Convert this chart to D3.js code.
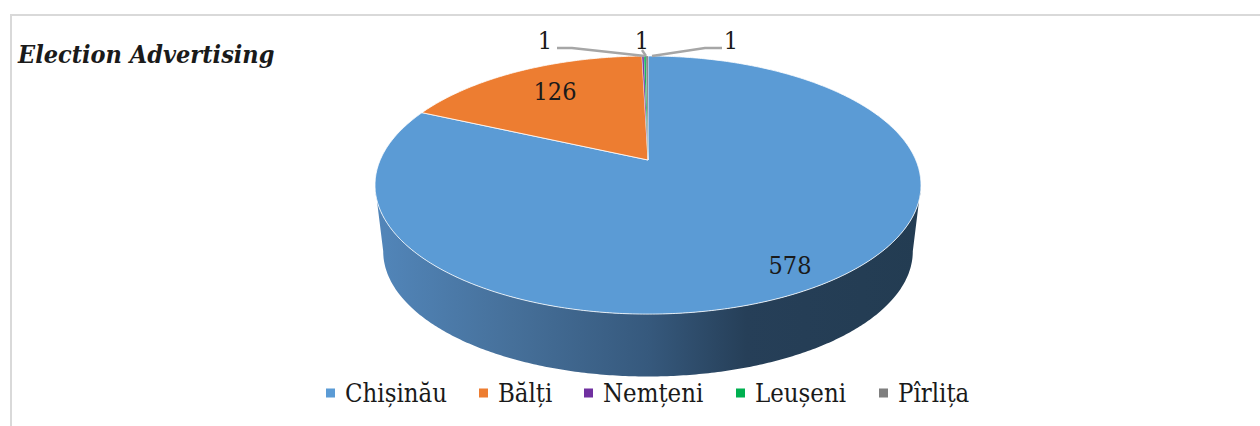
<!DOCTYPE html>
<html>
<head>
<meta charset="utf-8">
<script src="https://cdn.jsdelivr.net/npm/d3@7"></script>
<style>
  html, body { margin: 0; padding: 0; background: #fff; }
  svg { display: block; }
  text { font-family: "DejaVu Serif", serif; font-stretch: condensed; fill: #1a1a1a; }
</style>
</head>
<body>
<svg id="chart" width="1260" height="426"></svg>
<script>
const categories = ["Chișinău", "Bălți", "Nemțeni", "Leușeni", "Pîrlița"];
const values = [578, 126, 1, 1, 1];
const colors = ["#5b9bd5", "#ed7d31", "#7030a0", "#00b050", "#7f7f7f"];
const title = "Election Advertising";

const svg = d3.select("#chart");

// moldura do grafico
svg.append("path")
  .attr("d", "M1260,15H11V426")
  .attr("fill", "none")
  .attr("stroke", "#d9d9d9")
  .attr("stroke-width", 2);

svg.append("text")
  .attr("x", 18)
  .attr("y", 63)
  .attr("font-size", 25)
  .attr("font-weight", "bold")
  .attr("font-style", "italic")
  .text(title);

// perspectiva do disco: centro em (648,160), frente maior que o fundo
const tilt = -0.194;
function project(angle, r, disc) {
  const u = Math.sin(angle) * r;
  const v = -Math.cos(angle) * r;
  const w = 1 + tilt * v;
  return [
    648 + disc.scale * 267.8 * u / w,
    160 + disc.drop + disc.scale * 124.2 * v / w
  ];
}
const top3d = { scale: 1, drop: 0 };
const bottom3d = { scale: 0.97, drop: 67 };

const line = d3.line();
const slices = d3.pie().sort(null)(values);

function rim(a0, a1, disc) {
  const n = Math.max(2, Math.ceil((a1 - a0) / 0.01));
  return d3.range(n + 1).map(i => project(a0 + (a1 - a0) * i / n, 1, disc));
}

// parede lateral
const defs = svg.append("defs");
const grad = defs.append("linearGradient")
  .attr("id", "wall")
  .attr("gradientUnits", "userSpaceOnUse")
  .attr("x1", 375).attr("x2", 921).attr("y1", 0).attr("y2", 0);
[[0, "#5286ba"], [0.25, "#46709a"], [0.5, "#36597d"], [0.68, "#263f58"], [1, "#233c52"]]
  .forEach(s => grad.append("stop").attr("offset", s[0]).attr("stop-color", s[1]));

const wallFrom = Math.PI / 2 + 0.195;
const wallTo = Math.PI * 1.5 - 0.195;
const wallTop = rim(wallFrom, wallTo, top3d);
const wallBottom = rim(wallFrom, wallTo, bottom3d).reverse();
svg.append("path")
  .attr("d", line(wallTop.concat(wallBottom)) + "Z")
  .attr("fill", "url(#wall)");

// fatias
svg.append("g").selectAll("path")
  .data(slices)
  .join("path")
  .attr("d", d => line([project(0, 0, top3d)].concat(rim(d.startAngle, d.endAngle, top3d))) + "Z")
  .attr("fill", (d, i) => colors[i])
  .attr("stroke", "#fff")
  .attr("stroke-width", d => d.value > 1 ? 0.8 : 0.2);

// linhas de chamada
const leaders = [
  [[557, 48], [572, 48], [645, 56]],
  [[642, 50], [646, 56]],
  [[722, 48], [705, 48], [652, 56]]
];
svg.append("g").selectAll("path")
  .data(leaders)
  .join("path")
  .attr("d", line)
  .attr("fill", "none")
  .attr("stroke", "#a6a6a6")
  .attr("stroke-width", 2.4);

// rotulos de valor
const labelPos = [[790, 274], [555, 100], [642, 49], [545, 49], [731, 49]];
svg.append("g").selectAll("text")
  .data(values)
  .join("text")
  .attr("x", (d, i) => labelPos[i][0])
  .attr("y", (d, i) => labelPos[i][1])
  .attr("text-anchor", "middle")
  .attr("font-size", 25)
  .text(d => d);

// legenda
const legendSwatch = [326, 479, 584, 736, 879];
const legend = svg.append("g").selectAll("g")
  .data(categories)
  .join("g")
  .attr("transform", (d, i) => `translate(${legendSwatch[i]}, 393)`);
legend.append("rect")
  .attr("y", -4.5)
  .attr("width", 9)
  .attr("height", 9)
  .attr("fill", (d, i) => colors[i]);
legend.append("text")
  .attr("x", 19)
  .attr("y", 9)
  .attr("font-size", 25.5)
  .text(d => d);
</script>
</body>
</html>
